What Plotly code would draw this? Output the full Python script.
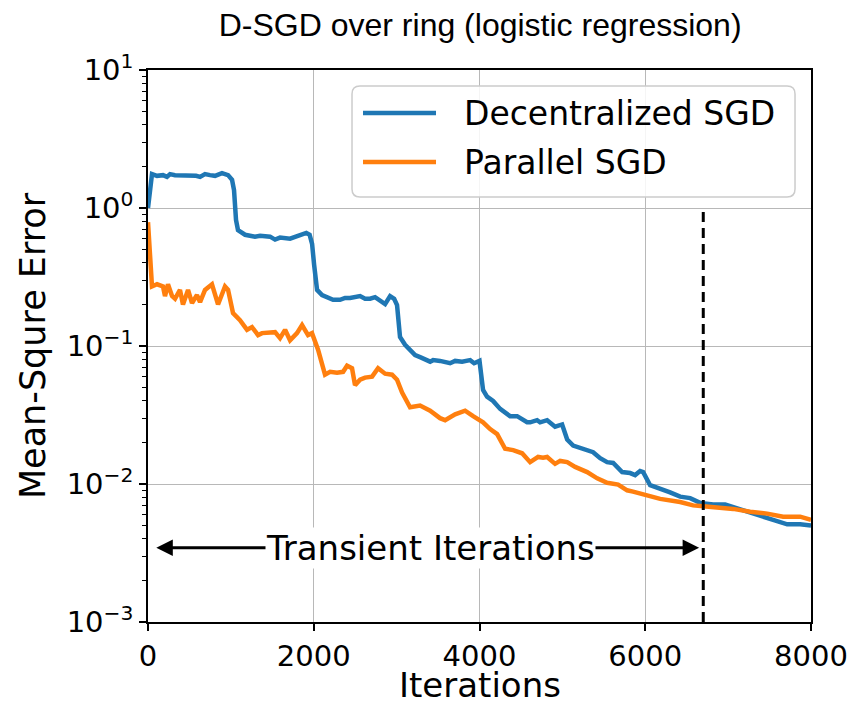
import math
import plotly.graph_objects as go

# ---------------- data ----------------
dsgd_iter = [0, 48, 109, 181, 229, 266, 326, 386, 507, 580, 628, 688, 748, 809, 893, 966,
             1014, 1038, 1062, 1086, 1171, 1291, 1352, 1473, 1533, 1593, 1714, 1835, 1910,
             1950, 1980, 2004, 2040, 2100, 2233, 2317, 2378, 2438, 2559, 2619, 2680, 2740,
             2800, 2861, 2921, 2970, 3005, 3041, 3102, 3162, 3223, 3283, 3404, 3440, 3524,
             3645, 3706, 3790, 3887, 3935, 4000, 4043, 4091, 4164, 4249, 4369, 4454, 4574,
             4611, 4695, 4731, 4816, 4912, 4997, 5058, 5130, 5250, 5371, 5456, 5540, 5613,
             5721, 5818, 5878, 5938, 5975, 6059, 6180, 6300, 6421, 6542, 6662, 6819, 6964,
             7061, 7230, 7387, 7544, 7713, 7869, 8000]
dsgd_mse = [1.00, 1.76, 1.71, 1.73, 1.68, 1.76, 1.73, 1.73, 1.73, 1.71, 1.68, 1.76, 1.73,
            1.71, 1.79, 1.73, 1.60, 1.35, 0.82, 0.69, 0.64, 0.62, 0.63, 0.62, 0.59, 0.61,
            0.60, 0.63, 0.66, 0.64, 0.55, 0.39, 0.255, 0.234, 0.216, 0.216, 0.223, 0.223,
            0.230, 0.220, 0.220, 0.226, 0.212, 0.201, 0.230, 0.220, 0.198, 0.116, 0.102,
            0.094, 0.086, 0.083, 0.077, 0.079, 0.078, 0.075, 0.078, 0.077, 0.079, 0.075,
            0.078, 0.048, 0.043, 0.040, 0.035, 0.031, 0.031, 0.028, 0.028, 0.029, 0.028,
            0.029, 0.026, 0.027, 0.021, 0.019, 0.018, 0.017, 0.0154, 0.0144, 0.0142,
            0.0122, 0.0120, 0.0116, 0.0124, 0.0122, 0.0098, 0.0093, 0.0087, 0.0081, 0.0079,
            0.0073, 0.0071, 0.0071, 0.0068, 0.0062, 0.0058, 0.0054, 0.0051, 0.0051, 0.0050]

psgd_iter = [0, 48, 109, 181, 205, 241, 290, 326, 386, 422, 483, 531, 591, 628, 688, 748,
             772, 845, 929, 966, 1026, 1110, 1195, 1255, 1328, 1376, 1473, 1533, 1593, 1654,
             1714, 1798, 1859, 1931, 1979, 2052, 2136, 2197, 2281, 2354, 2402, 2462, 2498,
             2559, 2619, 2704, 2776, 2861, 2945, 3005, 3066, 3162, 3283, 3404, 3524, 3585,
             3706, 3826, 3923, 4043, 4128, 4213, 4309, 4406, 4514, 4611, 4707, 4767, 4816,
             4912, 4973, 5058, 5154, 5299, 5420, 5540, 5673, 5781, 5853, 5975, 6180, 6421,
             6578, 6700, 6904, 7061, 7266, 7471, 7664, 7869, 8000]
psgd_mse = [0.79, 0.27, 0.28, 0.27, 0.23, 0.28, 0.23, 0.22, 0.255, 0.20, 0.255, 0.205,
            0.234, 0.208, 0.255, 0.27, 0.28, 0.20, 0.27, 0.255, 0.173, 0.154, 0.131, 0.137,
            0.120, 0.124, 0.124, 0.126, 0.114, 0.131, 0.110, 0.124, 0.142, 0.120, 0.124,
            0.094, 0.062, 0.065, 0.064, 0.065, 0.072, 0.069, 0.052, 0.057, 0.059, 0.060,
            0.069, 0.063, 0.062, 0.057, 0.046, 0.036, 0.037, 0.034, 0.030, 0.029, 0.032,
            0.034, 0.031, 0.028, 0.025, 0.023, 0.018, 0.0176, 0.0167, 0.0144, 0.0157,
            0.0155, 0.0157, 0.0140, 0.0147, 0.0144, 0.0133, 0.0122, 0.0110, 0.0102, 0.0099,
            0.0090, 0.0088, 0.0084, 0.0078, 0.0074, 0.0070, 0.0069, 0.0068, 0.0066, 0.0063,
            0.0061, 0.0058, 0.0058, 0.0055]

transient_iter = 6700
arrow_left_iter = 100
arrow_right_iter = 6650
arrow_mid_iter = 3410
arrow_level = 0.00345
dashed_span = [1e-3, 1.0]

x_ticks = [0, 2000, 4000, 6000, 8000]
x_ticklabels = ["0", "2000", "4000", "6000", "8000"]
y_ticks = [1e-3, 1e-2, 1e-1, 1e0, 1e1]
y_ticklabels = ["10<sup>\u22123</sup>", "10<sup>\u22122</sup>", "10<sup>\u22121</sup>",
                "10<sup>0</sup>", "10<sup>1</sup>"]
y_minor = [m * 10.0 ** e for e in range(-3, 1) for m in range(2, 10)]

title_text = "D-SGD over ring (logistic regression)"
x_title = "Iterations"
y_title = "Mean-Squre Error"
series_labels = ["Decentralized SGD", "Parallel SGD"]
series_colors = ["#1f77b4", "#ff7f0e"]
annot_text = "Transient Iterations"

# ---------------- figure ----------------
FONT = "DejaVu Sans"
fig = go.Figure()
for xs, ys, name, col in [(dsgd_iter, dsgd_mse, series_labels[0], series_colors[0]),
                          (psgd_iter, psgd_mse, series_labels[1], series_colors[1])]:
    fig.add_trace(go.Scatter(x=xs, y=ys, mode="lines", name=name,
                             line=dict(color=col, width=4.5)))
fig.add_trace(go.Scatter(x=[transient_iter, transient_iter], y=dashed_span, mode="lines",
                         showlegend=False, hoverinfo="skip",
                         line=dict(color="black", width=3, dash="10px,6px")))

ylev = math.log10(arrow_level)
for tip in (arrow_left_iter, arrow_right_iter):
    fig.add_annotation(x=tip, y=ylev, ax=arrow_mid_iter, ay=ylev, xref="x", yref="y",
                       axref="x", ayref="y", text="", showarrow=True,
                       arrowhead=2, arrowsize=1.1, arrowwidth=3, arrowcolor="black")
fig.add_annotation(x=arrow_mid_iter, y=ylev, xref="x", yref="y", text=annot_text,
                   showarrow=False, bgcolor="white", borderpad=0,
                   font=dict(family=FONT, size=34, color="black"))

# ---- legend box drawn in the upper right (matplotlib style) ----
lx0, lx1, ly0, ly1 = 0.3077, 0.9759, 0.770, 0.971
r = 0.012
ry = r * 663 / 552
legend_path = (f"M {lx0 + r},{ly0} L {lx1 - r},{ly0} Q {lx1},{ly0} {lx1},{ly0 + ry} "
               f"L {lx1},{ly1 - ry} Q {lx1},{ly1} {lx1 - r},{ly1} "
               f"L {lx0 + r},{ly1} Q {lx0},{ly1} {lx0},{ly1 - ry} "
               f"L {lx0},{ly0 + ry} Q {lx0},{ly0} {lx0 + r},{ly0} Z")
fig.add_shape(type="path", path=legend_path, xref="paper", yref="paper",
              fillcolor="rgba(255,255,255,0.85)", line=dict(color="#cccccc", width=1.5),
              layer="above")
row_y = [0.9221, 0.8333]
for label, col, yy in zip(series_labels, series_colors, row_y):
    fig.add_shape(type="line", xref="paper", yref="paper", x0=0.3243, x1=0.4344,
                  y0=yy, y1=yy, line=dict(color=col, width=4.5), layer="above")
    fig.add_annotation(x=0.4736, y=yy, xref="paper", yref="paper", text=label,
                       showarrow=False, xanchor="left", yanchor="middle",
                       font=dict(family=FONT, size=33, color="black"))

# x-axis title placed below the tick labels
fig.add_annotation(x=0.5, y=-0.1141, xref="paper", yref="paper", text=x_title,
                   showarrow=False, xanchor="center", yanchor="middle",
                   font=dict(family=FONT, size=34, color="black"))

axis_common = dict(showline=True, linecolor="black", linewidth=1.5, mirror=True,
                   ticks="outside", ticklen=7, tickwidth=1.5, tickcolor="black",
                   showgrid=True, gridcolor="#b8b8b8", gridwidth=1, zeroline=False,
                   automargin=False,
                   tickfont=dict(family=FONT, size=29, color="black"))

fig.update_xaxes(range=[0, 8000], tickmode="array", tickvals=x_ticks,
                 ticktext=x_ticklabels,
                 **axis_common)
fig.update_yaxes(type="log", range=[-3, 1], tickmode="array", tickvals=y_ticks,
                 ticktext=y_ticklabels,
                 minor=dict(tickmode="array", tickvals=y_minor, ticks="outside",
                            ticklen=4, tickwidth=1, tickcolor="black", showgrid=False),
                 title=dict(text=y_title, font=dict(family=FONT, size=35, color="black"),
                            standoff=10),
                 **axis_common)

fig.update_layout(
    width=862, height=701,
    margin=dict(l=148, r=51, t=70, b=79),
    paper_bgcolor="white", plot_bgcolor="white",
    title=dict(text=title_text, x=0.557, xanchor="center", y=0.964, yanchor="middle",
               yref="container",
               font=dict(family="Liberation Sans", size=32, color="black")),
    showlegend=False,
)

fig.write_html("out.html", config={"displayModeBar": False})
